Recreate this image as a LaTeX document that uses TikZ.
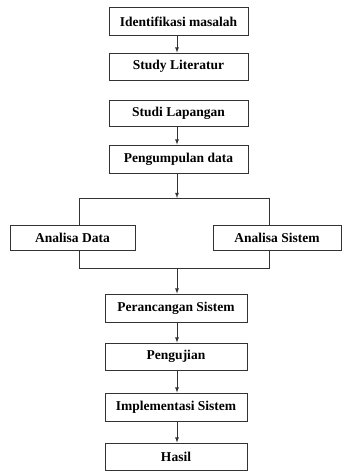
\documentclass[tikz,border=0pt]{standalone}
\usepackage{fontspec}
\setmainfont{Liberation Serif}
\usetikzlibrary{arrows}
\begin{document}
\begin{tikzpicture}[x=1pt,y=-1pt,
  box/.style={draw=black!80, line width=0.8pt, inner sep=0pt, minimum width=139pt, minimum height=28pt, font=\fontsize{13.5}{15}\selectfont\bfseries},
  wide/.style={box, minimum width=142pt},
  line/.style={draw=black!80, line width=0.8pt}]
  \useasboundingbox (0,0) rectangle (342,471);

  \node[box] (ident) at (178.5,21.5) {Identifikasi masalah};
  \node[box, minimum height=27pt] (lit) at (178.5,66.5) {Study Literatur};
  \node[box, minimum height=26pt] (lap) at (178.5,113) {Studi Lapangan};
  \node[box] (kumpul) at (178.5,159) {Pengumpulan data};

  \node[box, minimum width=125pt, minimum height=25pt] (adata) at (72.5,237.5) {Analisa Data};
  \node[box, minimum width=128pt, minimum height=25pt] (asis) at (277,237.5) {Analisa Sistem};

  \node[wide] (rancang) at (176,308) {Perancangan Sistem};
  \node[wide, minimum height=27pt] (uji) at (176,356.5) {Pengujian};
  \node[wide] (impl) at (176,407) {Implementasi Sistem};
  \node[wide, minimum height=27pt] (hasil) at (176,456.5) {Hasil};

  \coordinate (split) at (177,198);
  \coordinate (sl) at (79,198);
  \coordinate (sr) at (269,198);
  \coordinate (merge) at (177,268);
  \coordinate (ml) at (79,268);
  \coordinate (mr) at (269,268);

  \draw[line,->,>=latex] (ident.south -| split) -- (lit.north -| split);
  \draw[line,->,>=latex] (lap.south -| split) -- (kumpul.north -| split);
  \draw[line,->,>=latex] (kumpul.south -| split) -- (split);
  \draw[line] (sl |- adata.north) -- (sl) -- (sr) -- (sr |- asis.north);
  \draw[line] (ml |- adata.south) -- (ml) -- (mr) -- (mr |- asis.south);
  \draw[line,->,>=latex] (merge) -- (merge |- rancang.north);
  \draw[line,->,>=latex] (rancang.south -| merge) -- (uji.north -| merge);
  \draw[line,->,>=latex] (uji.south -| merge) -- (impl.north -| merge);
  \draw[line,->,>=latex] (impl.south -| merge) -- (hasil.north -| merge);
\end{tikzpicture}
\end{document}
